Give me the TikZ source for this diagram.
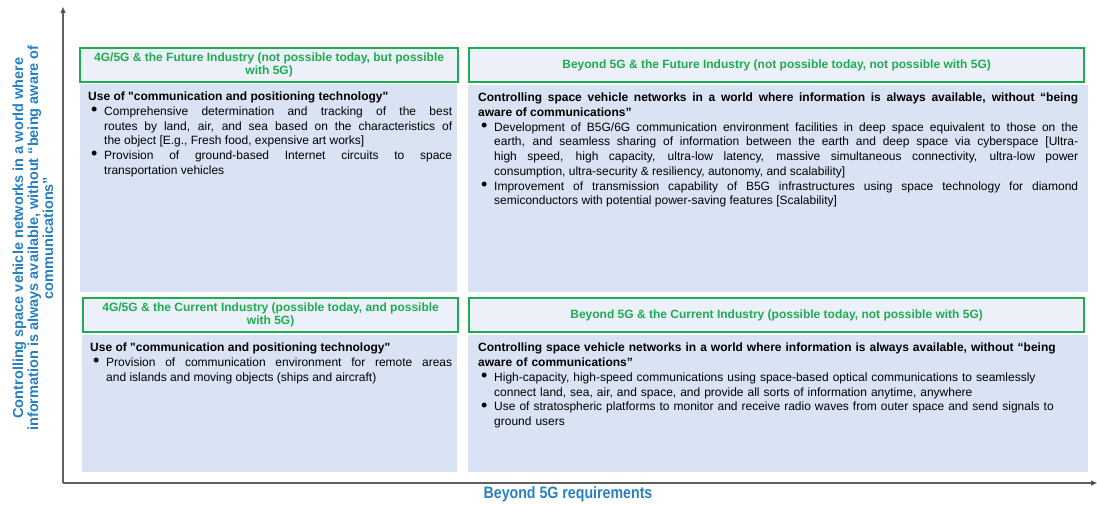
\documentclass[tikz,border=0pt]{standalone}
\usepackage{fontspec}
\setmainfont{Liberation Sans}[Ligatures=TeXOff]
\newfontfamily\narrowfont[FakeStretch=0.86]{Liberation Sans}
\usepackage{xcolor}
\usetikzlibrary{positioning,arrows.meta}
\definecolor{quadgreen}{RGB}{30,172,82}
\definecolor{quadhead}{RGB}{236,240,248}
\definecolor{quadfill}{RGB}{218,227,243}
\definecolor{axisblue}{RGB}{40,128,190}
\definecolor{axisgray}{RGB}{96,96,96}
\newcommand\quadbullet{\par\hangindent=16pt\hangafter=1\noindent
 \hbox to 16pt{\hskip3pt\raisebox{-0.3pt}{\scalebox{1.5}{\textbullet}}\hfil}}
\tikzset{
 qhead/.style={draw=quadgreen, line width=2.2pt, fill=quadhead, anchor=north west,
        inner sep=1pt, align=center, text=quadgreen,
        font=\fontsize{12}{13.5}\selectfont\bfseries},
 qbody/.style={fill=quadfill, anchor=north west, inner sep=0pt},
 qtext/.style={anchor=north west, inner sep=0pt, align=justify,
        font=\fontsize{12}{14.7}\selectfont},
 axisline/.style={draw=axisgray, line width=1.2pt,
          -{Triangle[length=6pt,width=5pt,fill=black]}},
 axislabel/.style={text=axisblue, align=center, inner sep=0pt,
          font=\fontsize{14.5}{15}\selectfont\bfseries},
}
\begin{document}
\begin{tikzpicture}[x=1pt,y=-1pt]
\useasboundingbox (0,0) rectangle (1097,504);
% quadrant frames: body panel first, green title box on top
\foreach \q/\hx/\hy/\hw/\bx/\by/\bw/\bh/\title in {%
 tl/79/47/378/80/84/377/208/{4G/5G \& the Future Industry (not possible today, but possible\\with 5G)},
 tr/468/47/615/468/85/620/207/{Beyond 5G \& the Future Industry (not possible today, not possible with 5G)},
 bl/82/297/375/82/335/375/137/{4G/5G \& the Current Industry (possible today, and possible\\with 5G)},
 br/468/297/615/468/335/620/137/{Beyond 5G \& the Current Industry (possible today, not possible with 5G)}%
}{
 \node[qbody, minimum width=\bw, minimum height=\bh] (\q-body) at (\bx,\by) {};
 \node[qhead, minimum width=\hw, minimum height=34] (\q-head) at (\hx,\hy) {\title};
}
% panel texts
\node[qtext, text width=364] (tl-text) at ([xshift=8pt,yshift=-8pt]tl-body.north west) {%
 \textbf{Use of "communication and positioning technology"}
 \quadbullet Comprehensive determination and tracking of the best\linebreak
 routes by land, air, and sea based on the characteristics of\linebreak
 the object [E.g., Fresh food, expensive art works]
 \quadbullet Provision of ground-based Internet circuits to space\linebreak
 transportation vehicles\par};
\node[qtext, text width=600] (tr-text) at ([xshift=10pt,yshift=-8pt]tr-body.north west) {%
 \textbf{Controlling space vehicle networks in a world where information is always available, without “being\linebreak
 aware of communications”}
 \quadbullet Development of B5G/6G communication environment facilities in deep space equivalent to those on the\linebreak
 earth, and seamless sharing of information between the earth and deep space via cyberspace [Ultra-\linebreak
 high speed, high capacity, ultra-low latency, massive simultaneous connectivity, ultra-low power\linebreak
 consumption, ultra-security \& resiliency, autonomy, and scalability]
 \quadbullet Improvement of transmission capability of B5G infrastructures using space technology for diamond\linebreak
 semiconductors with potential power-saving features [Scalability]\par};
\node[qtext, text width=362] (bl-text) at ([xshift=8pt,yshift=-8pt]bl-body.north west) {%
 \textbf{Use of "communication and positioning technology"}
 \quadbullet Provision of communication environment for remote areas\linebreak
 and islands and moving objects (ships and aircraft)\par};
\node[qtext, text width=602, align=left] (br-text) at ([xshift=10pt,yshift=-8pt]br-body.north west) {%
 \textbf{Controlling space vehicle networks in a world where information is always available, without “being\newline
 aware of communications”}
 \quadbullet High-capacity, high-speed communications using space-based optical communications to seamlessly\newline
 connect land, sea, air, and space, and provide all sorts of information anytime, anywhere
 \quadbullet Use of stratospheric platforms to monitor and receive radio waves from outer space and send signals to\newline
 ground users\par};
% axes
\coordinate (origin) at (63,483);
\coordinate (ytop) at (63,7);
\coordinate (xend) at (1097,483);
\draw[axisline] (origin) -- (ytop);
\draw[axisline] (origin) -- (xend);
\node[axislabel, rotate=90] (ylabel) at (33,238) {Controlling space vehicle networks in a world where\\
 information is always available, without “being aware of\\ communications”};
\node[axislabel, font=\fontsize{16.5}{18}\selectfont\narrowfont\bfseries] (xlabel) at (568,494) {Beyond 5G requirements};
\end{tikzpicture}
\end{document}
